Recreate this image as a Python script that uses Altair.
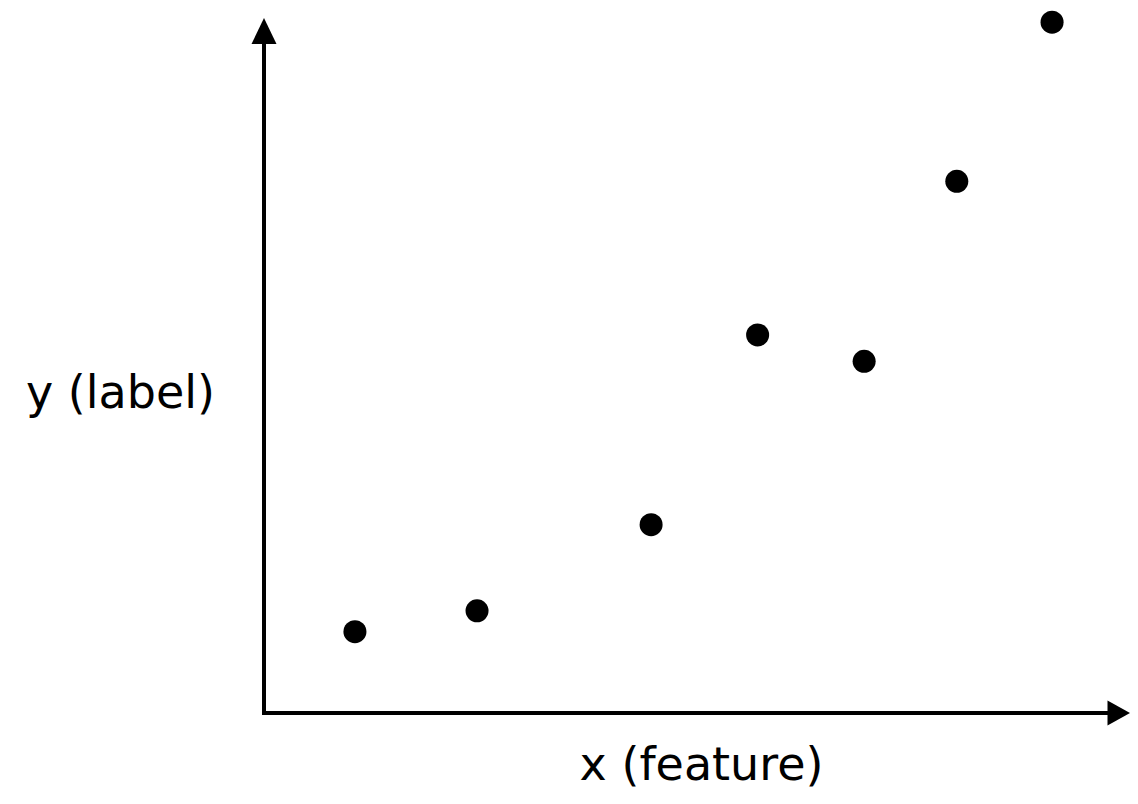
import altair as alt
import pandas as pd

# data (arbitrary units)
x_vals = [1.05, 2.46, 4.47, 5.70, 6.93, 8.00, 9.10]
y_vals = [1.17, 1.47, 2.71, 5.44, 5.06, 7.65, 9.94]
x_title = "x (feature)"
y_title = "y (label)"
x_domain = [0, 10]
y_domain = [0, 10]

pts = pd.DataFrame({"x": x_vals, "y": y_vals})

W, H = 866, 695

xs = alt.Scale(domain=x_domain, nice=False, zero=False)
ys = alt.Scale(domain=y_domain, nice=False, zero=False)

FONT = "DejaVu Sans"
FS = 46
xaxis = alt.Axis(domain=False, ticks=False, labels=False, grid=False,
                 title=x_title, titleFont=FONT, titleFontSize=FS,
                 titleFontWeight="normal", titleColor="black",
                 titleBaseline="alphabetic", titleAlign="center",
                 titleX=437, titleY=66)
yaxis = alt.Axis(domain=False, ticks=False, labels=False, grid=False,
                 title=y_title, titleFont=FONT, titleFontSize=FS,
                 titleFontWeight="normal", titleColor="black", titleAngle=0,
                 titleAlign="center", titleBaseline="alphabetic",
                 titleX=-144, titleY=389)

points = alt.Chart(pts).mark_circle(size=530, color="black", opacity=1).encode(
    x=alt.X("x:Q", scale=xs, axis=xaxis),
    y=alt.Y("y:Q", scale=ys, axis=yaxis),
)

# axis lines with arrows
xline = pd.DataFrame({"x": [x_domain[0]], "x2": [x_domain[1] - 0.2], "y": [y_domain[0]]})
yline = pd.DataFrame({"y": [y_domain[0]], "y2": [y_domain[1] - 0.2], "x": [x_domain[0]]})

xrule = alt.Chart(xline).mark_rule(color="black", strokeWidth=4, strokeCap="square").encode(
    x=alt.X("x:Q", scale=xs), x2="x2:Q", y=alt.Y("y:Q", scale=ys))
yrule = alt.Chart(yline).mark_rule(color="black", strokeWidth=4, strokeCap="square").encode(
    y=alt.Y("y:Q", scale=ys), y2="y2:Q", x=alt.X("x:Q", scale=xs))

xarrow = alt.Chart(pd.DataFrame({"x": [x_domain[1]], "y": [y_domain[0]]})).mark_point(
    shape="M0,0 L-1.8,-1 L-1.8,1 Z", size=625, filled=True, color="black", opacity=1
).encode(x=alt.X("x:Q", scale=xs), y=alt.Y("y:Q", scale=ys))
yarrow = alt.Chart(pd.DataFrame({"x": [x_domain[0]], "y": [y_domain[1]]})).mark_point(
    shape="M0,0 L-1,2.08 L1,2.08 Z", size=625, filled=True, color="black", opacity=1
).encode(x=alt.X("x:Q", scale=xs), y=alt.Y("y:Q", scale=ys))

chart = alt.layer(points, xrule, yrule, xarrow, yarrow).properties(
    width=W, height=H,
    autosize=alt.AutoSizeParams(type="none"),
    padding={"left": 256, "top": 10, "right": 0, "bottom": 79},
).configure_view(stroke=None)

chart.save("out.html", embed_options={"renderer": "svg", "actions": False})
